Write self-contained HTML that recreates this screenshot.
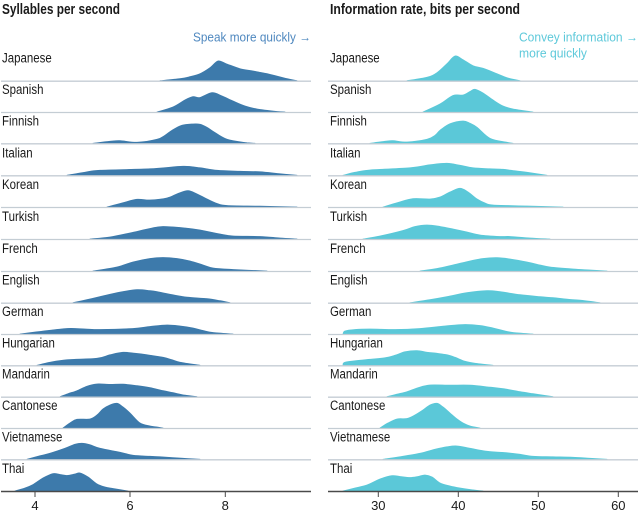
<!DOCTYPE html>
<html><head><meta charset="utf-8"><style>
html,body{margin:0;padding:0;background:#fff;}
svg{display:block;}
text{font-family:"Liberation Sans",sans-serif;}
</style></head><body>
<svg id="chart" width="641" height="514" viewBox="0 0 641 514" xmlns="http://www.w3.org/2000/svg">
<rect width="641" height="514" fill="#fff"/>
<!-- Titles -->
<text x="2" y="14" font-size="14.5" font-weight="bold" fill="#1a1a1a" textLength="118" lengthAdjust="spacingAndGlyphs">Syllables per second</text>
<text x="330" y="14" font-size="14.5" font-weight="bold" fill="#1a1a1a" textLength="190" lengthAdjust="spacingAndGlyphs">Information rate, bits per second</text>
<!-- Annotations -->
<text x="193" y="41.5" font-size="12.5" fill="#4f88bf" textLength="118" lengthAdjust="spacingAndGlyphs">Speak more quickly →</text>
<text x="519" y="41.5" font-size="12.5" fill="#5ec9da" textLength="119" lengthAdjust="spacingAndGlyphs">Convey information →</text>
<text x="519" y="57.5" font-size="12.5" fill="#5ec9da" textLength="68" lengthAdjust="spacingAndGlyphs">more quickly</text>

<!-- LEFT ridges -->
<g fill="#3d7aab" stroke="#3d7aab" stroke-width="0.8" stroke-linejoin="round">
<g transform="translate(0,80.7)"><polygon points="160,0 180,-2 190,-4 200,-7 210,-13 218,-19.7 226,-17 240,-12 253,-9.7 267,-7 287,-2 297,0"/></g>
<g transform="translate(0,112)"><polygon points="157,0 173,-5 185,-12 193,-15.3 200,-14.5 212,-19.3 222,-16 233,-11 245,-6 257,-3 277,-0.5 285,0"/></g>
<g transform="translate(0,143.3)"><polygon points="93,0 110,-2 120,-2.6 137,-1 157,-4 165,-8 172,-13 182,-18 193,-19.3 200,-19 207,-16 213,-12 227,-4 247,-0.5 255,0"/></g>
<g transform="translate(0,175.3)"><polygon points="67,0 85,-3 100,-5 150,-6.5 183,-9 200,-7.5 217,-5 240,-4 260,-3.5 280,-1.5 297,0"/></g>
<g transform="translate(0,207)"><polygon points="107,0 122,-4 137,-7.7 150,-7 167,-9 178,-13.5 188,-16.3 197,-13 207,-8 217,-3.5 227,-1.5 260,-0.8 297,0"/></g>
<g transform="translate(0,239)"><polygon points="90,0 110,-2 130,-6 150,-10.5 163,-12.5 185,-11 200,-9 220,-5 233,-3 260,-2.5 280,-1 297,0"/></g>
<g transform="translate(0,271)"><polygon points="93,0 117,-4 133,-9 150,-12.5 163,-13.5 177,-12.5 190,-10 203,-6 213,-3 233,-1.5 267,0"/></g>
<g transform="translate(0,302.7)"><polygon points="73,0 87,-3 100,-6 120,-10.5 137,-13 150,-12 157,-11 172,-8 187,-5.5 207,-4 220,-2 230,0"/></g>
<g transform="translate(0,334)"><polygon points="20,0 40,-2.5 67,-5.5 85,-5 100,-4.5 133,-5.5 150,-7.5 167,-9 180,-8 193,-6 203,-3.5 213,-1.5 233,0"/></g>
<g transform="translate(0,365.3)"><polygon points="37,0 50,-3 67,-5.5 97,-7 110,-10.5 123,-13 135,-12 147,-10.5 163,-8 172,-5.5 180,-3 200,0"/></g>
<g transform="translate(0,396.7)"><polygon points="60,0 68,-3 77,-6 87,-10.5 97,-12.7 110,-12.3 123,-12.5 137,-11 150,-9 163,-6 173,-4 185,-1.5 197,0"/></g>
<g transform="translate(0,428)"><polygon points="63,0 70,-5 77,-8.7 90,-9 97,-13 103,-19 110,-23 117,-24.7 123,-21 130,-15 140,-5 150,-2 157,-1 163,0"/></g>
<g transform="translate(0,459.3)"><polygon points="27,0 40,-3.5 50,-6 65,-11 75,-15 82,-16 90,-14.5 100,-11 120,-7 133,-4 150,-3 160,-2.5 183,-1 200,0"/></g>
<g transform="translate(0,491)"><polygon points="15,0 25,-3 33,-6.4 43,-13 53,-17.4 60,-16.5 67,-15.5 75,-17 80,-18 88,-14 97,-7 105,-4 113,-2.5 128,0"/></g>
</g>

<!-- RIGHT ridges -->
<g fill="#5bc8d8" stroke="#5bc8d8" stroke-width="0.8" stroke-linejoin="round">
<g transform="translate(0,80.7)"><polygon points="407,0 427,-3.4 437,-8 447,-17 455,-24.7 463,-21 473,-15 483,-12.4 497,-7 507,-3 520,0"/></g>
<g transform="translate(0,112)"><polygon points="423,0 440,-8 453,-16.5 463,-17 470,-20.5 475,-22.7 483,-19 493,-12 503,-6 513,-3 533,0"/></g>
<g transform="translate(0,143.3)"><polygon points="370,0 385,-2 393,-2.6 407,-1.3 427,-4 435,-8 440,-13 450,-19.5 463,-22.3 470,-20 477,-16 490,-5 507,-1 513,0"/></g>
<g transform="translate(0,175.3)"><polygon points="343,0 355,-3 370,-5.3 410,-7.5 430,-10.5 447,-12 460,-10 473,-7.5 490,-6.5 503,-6 515,-4.5 527,-3 547,0"/></g>
<g transform="translate(0,207)"><polygon points="383,0 398,-4.5 413,-8.3 430,-8 440,-10 450,-15 460,-18.7 468,-15 477,-8 485,-4 493,-2 527,-1 563,0"/></g>
<g transform="translate(0,239)"><polygon points="363,0 380,-3 403,-8.5 415,-12.5 427,-14 440,-12.5 453,-10 467,-7 480,-4 500,-2.5 510,-2.5 530,-1 550,0"/></g>
<g transform="translate(0,271)"><polygon points="420,0 437,-2.5 453,-6 470,-10 483,-12.5 497,-13.3 510,-12 527,-9 540,-6 550,-4 573,-2 590,-1 607,0"/></g>
<g transform="translate(0,302.7)"><polygon points="410,0 430,-3 447,-6 467,-10 487,-12 500,-11 520,-8 540,-6 553,-5 567,-3.5 580,-2.5 600,0"/></g>
<g transform="translate(0,334)"><polygon points="343,0 345,-3 355,-4.5 370,-5 395,-4.5 420,-5.5 445,-8 465,-9.5 480,-8.5 493,-6 503,-3.5 513,-1.5 533,0"/></g>
<g transform="translate(0,365.3)"><polygon points="343,0 345,-3 360,-5 370,-6 385,-7.5 395,-10 405,-13.5 417,-14.7 427,-13 437,-12 447,-10.5 455,-8 465,-4 475,-2 493,0"/></g>
<g transform="translate(0,396.7)"><polygon points="387,0 397,-2.5 407,-5 418,-9 430,-11.7 450,-11.5 470,-11.5 490,-9.5 503,-8 520,-5 533,-3 553,0"/></g>
<g transform="translate(0,428)"><polygon points="380,0 388,-5 397,-9 407,-9.5 415,-13 423,-18 430,-23 437,-24.7 443,-21 450,-15 457,-9 463,-5 470,-2 480,0"/></g>
<g transform="translate(0,459.3)"><polygon points="383,0 400,-2.5 420,-6 435,-10 447,-12.5 457,-13.3 470,-11 487,-8 507,-6.5 520,-5 533,-3 553,-2.5 573,-2 590,-1 607,0"/></g>
<g transform="translate(0,491)"><polygon points="343,0 355,-3 367,-6 380,-12 392,-15.3 400,-14.5 410,-13.5 418,-14.5 425,-16 432,-14 440,-8 450,-5 460,-3 470,-1.5 483,0"/></g>
</g>

<!-- Row baselines -->
<g stroke="#c4cdd4" stroke-width="1.3">
<line x1="1" x2="311" y1="81.2" y2="81.2"/><line x1="328" x2="638" y1="81.2" y2="81.2"/>
<line x1="1" x2="311" y1="112.5" y2="112.5"/><line x1="328" x2="638" y1="112.5" y2="112.5"/>
<line x1="1" x2="311" y1="143.8" y2="143.8"/><line x1="328" x2="638" y1="143.8" y2="143.8"/>
<line x1="1" x2="311" y1="175.8" y2="175.8"/><line x1="328" x2="638" y1="175.8" y2="175.8"/>
<line x1="1" x2="311" y1="207.5" y2="207.5"/><line x1="328" x2="638" y1="207.5" y2="207.5"/>
<line x1="1" x2="311" y1="239.5" y2="239.5"/><line x1="328" x2="638" y1="239.5" y2="239.5"/>
<line x1="1" x2="311" y1="271.5" y2="271.5"/><line x1="328" x2="638" y1="271.5" y2="271.5"/>
<line x1="1" x2="311" y1="303.2" y2="303.2"/><line x1="328" x2="638" y1="303.2" y2="303.2"/>
<line x1="1" x2="311" y1="334.5" y2="334.5"/><line x1="328" x2="638" y1="334.5" y2="334.5"/>
<line x1="1" x2="311" y1="365.8" y2="365.8"/><line x1="328" x2="638" y1="365.8" y2="365.8"/>
<line x1="1" x2="311" y1="397.2" y2="397.2"/><line x1="328" x2="638" y1="397.2" y2="397.2"/>
<line x1="1" x2="311" y1="428.5" y2="428.5"/><line x1="328" x2="638" y1="428.5" y2="428.5"/>
<line x1="1" x2="311" y1="459.8" y2="459.8"/><line x1="328" x2="638" y1="459.8" y2="459.8"/>
</g>
<!-- Axis -->
<g stroke="#4a4a4a" stroke-width="1.5">
<line x1="1" x2="311" y1="491.5" y2="491.5"/><line x1="328" x2="638" y1="491.5" y2="491.5"/>
</g>
<g stroke="#4a4a4a" stroke-width="1">
<line x1="35" x2="35" y1="491" y2="497"/><line x1="130" x2="130" y1="491" y2="497"/><line x1="225.3" x2="225.3" y1="491" y2="497"/>
<line x1="378.3" x2="378.3" y1="491" y2="497"/><line x1="458.3" x2="458.3" y1="491" y2="497"/><line x1="538.3" x2="538.3" y1="491" y2="497"/><line x1="618.3" x2="618.3" y1="491" y2="497"/>
</g>
<g font-size="13" fill="#1a1a1a" text-anchor="middle">
<text x="35" y="510">4</text><text x="130" y="510">6</text><text x="225.3" y="510">8</text>
<text x="378.3" y="510">30</text><text x="458.3" y="510">40</text><text x="538.3" y="510">50</text><text x="618.3" y="510">60</text>
</g>

<!-- Labels -->
<g font-size="13.5" fill="#1a1a1a" transform="scale(0.85,1)">
<text x="2.4" y="62.6">Japanese</text><text x="388.2" y="62.6">Japanese</text>
<text x="2.4" y="94">Spanish</text><text x="388.2" y="94">Spanish</text>
<text x="2.4" y="125.3">Finnish</text><text x="388.2" y="125.3">Finnish</text>
<text x="2.4" y="157.3">Italian</text><text x="388.2" y="157.3">Italian</text>
<text x="2.4" y="189">Korean</text><text x="388.2" y="189">Korean</text>
<text x="2.4" y="221">Turkish</text><text x="388.2" y="221">Turkish</text>
<text x="2.4" y="253">French</text><text x="388.2" y="253">French</text>
<text x="2.4" y="284.7">English</text><text x="388.2" y="284.7">English</text>
<text x="2.4" y="316">German</text><text x="388.2" y="316">German</text>
<text x="2.4" y="347.3">Hungarian</text><text x="388.2" y="347.3">Hungarian</text>
<text x="2.4" y="378.7">Mandarin</text><text x="388.2" y="378.7">Mandarin</text>
<text x="2.4" y="410">Cantonese</text><text x="388.2" y="410">Cantonese</text>
<text x="2.4" y="441.3">Vietnamese</text><text x="388.2" y="441.3">Vietnamese</text>
<text x="2.4" y="473">Thai</text><text x="388.2" y="473">Thai</text>
</g>
</svg>
<script>
(function(){
  try{
    var NS="http://www.w3.org/2000/svg";
    var polys=document.querySelectorAll("#chart polygon");
    for(var k=0;k<polys.length;k++){
      var pg=polys[k];
      var raw=pg.getAttribute("points").trim().split(/\s+/);
      var p=[];
      for(var i=0;i<raw.length;i++){var a=raw[i].split(",");p.push([parseFloat(a[0]),parseFloat(a[1])]);}
      var d="M"+p[0][0]+","+p[0][1];
      for(var i=0;i<p.length-1;i++){
        var p0=p[i>0?i-1:0],p1=p[i],p2=p[i+1],p3=p[i+2<p.length?i+2:p.length-1];
        var t=1/6;
        var c1x=p1[0]+(p2[0]-p0[0])*t, c1y=p1[1]+(p2[1]-p0[1])*t;
        var c2x=p2[0]-(p3[0]-p1[0])*t, c2y=p2[1]-(p3[1]-p1[1])*t;
        if(c1y>0)c1y=0; if(c2y>0)c2y=0;
        d+=" C"+c1x.toFixed(2)+","+c1y.toFixed(2)+" "+c2x.toFixed(2)+","+c2y.toFixed(2)+" "+p2[0]+","+p2[1];
      }
      d+=" Z";
      var path=document.createElementNS(NS,"path");
      path.setAttribute("d",d);
      pg.parentNode.replaceChild(path,pg);
    }
  }catch(e){}
})();
</script>
</body></html>
